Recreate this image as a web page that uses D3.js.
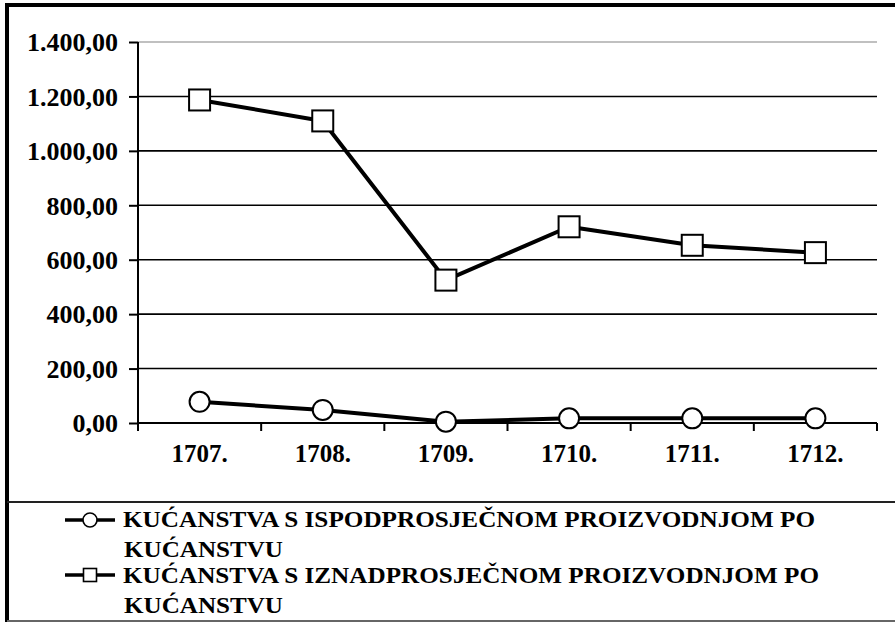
<!DOCTYPE html>
<html>
<head>
<meta charset="utf-8">
<script src="https://cdn.jsdelivr.net/npm/d3@7"></script>
<style>
  body { margin: 0; background: #fff; }
</style>
</head>
<body>
<svg id="chart" width="895" height="622"></svg>
<script>
// categories and series values
var years = ["1707.", "1708.", "1709.", "1710.", "1711.", "1712."];
var below = [78, 48, 5, 17, 17, 17];
var above = [1187, 1110, 525, 721, 653, 626];
var yTicks = [0, 200, 400, 600, 800, 1000, 1200, 1400];
var seriesNames = ["KUĆANSTVA S ISPODPROSJEČNOM PROIZVODNJOM PO", "KUĆANSTVA S IZNADPROSJEČNOM PROIZVODNJOM PO"];
var seriesNames2 = ["KUĆANSTVU", "KUĆANSTVU"];

var FONT = "'Liberation Serif', 'Times New Roman', serif";
var svg = d3.select("#chart");

// plot area
var pLeft = 138, pRight = 877, pTop = 42, pBottom = 423;

var x = d3.scaleBand().domain(years).range([pLeft, pRight]);
var y = d3.scaleLinear().domain([0, 1400]).range([pBottom, pTop]);

// number format like 1.400,00
var fmt = d3.formatLocale({decimal: ",", thousands: ".", grouping: [3], currency: ["", ""]}).format(",.2f");

// gridlines
svg.selectAll(".grid")
    .data(yTicks.filter(function(d) { return d > 0; }))
    .enter().append("line")
    .attr("x1", pLeft).attr("x2", pRight)
    .attr("y1", function(d) { return y(d); })
    .attr("y2", function(d) { return y(d); })
    .attr("stroke", function(d) { return d == 1400 ? "#c0c0c0" : "#000"; })
    .attr("stroke-width", function(d) { return d == 1400 ? 2 : 1.6; });

// y axis
var yAxis = svg.append("g")
    .attr("transform", "translate(" + pLeft + ",0)")
    .call(d3.axisLeft(y).tickValues(yTicks).tickSize(9).tickPadding(11).tickFormat(fmt));
yAxis.select(".domain").attr("stroke", "#000").attr("stroke-width", 2).attr("d", "M0," + pTop + "V" + pBottom);
yAxis.selectAll(".tick line").attr("stroke", "#000").attr("stroke-width", 2);
yAxis.selectAll(".tick text")
    .style("font-family", FONT).style("font-weight", "bold").style("font-size", "26px")
    .attr("fill", "#000").attr("dy", "0.34em");

// x axis with ticks on band edges
var xAxis = svg.append("g")
    .attr("transform", "translate(0," + pBottom + ")")
    .call(d3.axisBottom(x).tickSize(0).tickPadding(30));
xAxis.select(".domain").attr("stroke", "#000").attr("stroke-width", 2).attr("d", "M" + pLeft + ",0H" + pRight);
xAxis.selectAll(".tick text")
    .style("font-family", FONT).style("font-weight", "bold").style("font-size", "25px")
    .attr("fill", "#000").attr("dy", "0.34em");
var edges = years.map(function(d) { return x(d); }).concat([pRight]);
xAxis.selectAll(".edge")
    .data(edges)
    .enter().append("line")
    .attr("x1", function(d) { return d; }).attr("x2", function(d) { return d; })
    .attr("y1", 0).attr("y2", 8)
    .attr("stroke", "#000").attr("stroke-width", 2);

var cx = function(d, i) { return x(years[i]) + x.bandwidth() / 2; };
var line = d3.line().x(cx).y(function(d) { return y(d); });

// series lines
[below, above].forEach(function(s) {
    svg.append("path")
        .datum(s)
        .attr("d", line)
        .attr("fill", "none")
        .attr("stroke", "#000")
        .attr("stroke-width", 4)
        .attr("stroke-linejoin", "round");
});

// circle markers
svg.selectAll(".circ")
    .data(below)
    .enter().append("circle")
    .attr("cx", cx)
    .attr("cy", function(d) { return y(d); })
    .attr("r", 10)
    .attr("fill", "#fff").attr("stroke", "#000").attr("stroke-width", 2);

// square markers
svg.selectAll(".sq")
    .data(above)
    .enter().append("rect")
    .attr("x", function(d, i) { return cx(d, i) - 10.5; })
    .attr("y", function(d) { return y(d) - 10.5; })
    .attr("width", 21).attr("height", 21)
    .attr("fill", "#fff").attr("stroke", "#000").attr("stroke-width", 2);

// outer border (right side falls outside the picture)
svg.append("path")
    .attr("d", "M7,630V5H900")
    .attr("fill", "none").attr("stroke", "#000").attr("stroke-width", 4);

// legend box
svg.append("line").attr("x1", 7).attr("x2", 895).attr("y1", 502).attr("y2", 502)
    .attr("stroke", "#222").attr("stroke-width", 2);
svg.append("line").attr("x1", 7).attr("x2", 895).attr("y1", 621).attr("y2", 621)
    .attr("stroke", "#666").attr("stroke-width", 2);

var legendRows = [520, 575];
var line1Widths = [692, 696];
legendRows.forEach(function(ly, i) {
    var g = svg.append("g");
    g.append("line").attr("x1", 65).attr("x2", 115).attr("y1", ly).attr("y2", ly)
        .attr("stroke", "#000").attr("stroke-width", 3.6);
    if (i == 0) {
        g.append("circle").attr("cx", 90).attr("cy", ly).attr("r", 7)
            .attr("fill", "#fff").attr("stroke", "#000").attr("stroke-width", 1.6);
    } else {
        g.append("rect").attr("x", 83.5).attr("y", ly - 6.5).attr("width", 13).attr("height", 13)
            .attr("fill", "#fff").attr("stroke", "#000").attr("stroke-width", 1.6);
    }
    g.append("text")
        .attr("x", 123).attr("y", ly + 7 + i)
        .style("font-family", FONT).style("font-weight", "bold").style("font-size", "23px")
        .attr("textLength", line1Widths[i])
        .attr("lengthAdjust", "spacingAndGlyphs")
        .text(seriesNames[i]);
    g.append("text")
        .attr("x", 124).attr("y", ly + 37 + i)
        .style("font-family", FONT).style("font-weight", "bold").style("font-size", "23px")
        .attr("textLength", 159)
        .attr("lengthAdjust", "spacingAndGlyphs")
        .text(seriesNames2[i]);
});
</script>
</body>
</html>
